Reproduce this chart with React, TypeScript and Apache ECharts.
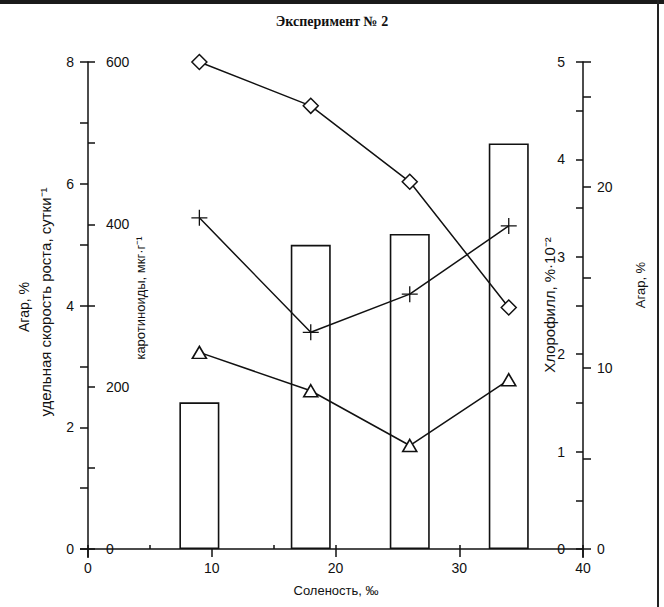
import React, { useEffect, useRef } from 'react';
import * as echarts from 'echarts';

// Salinity, ‰ (x positions of the measurements)
const salinity = [9, 18, 26, 34];
// Agar, % (bars, right outer axis)
const agarBars = [8.1, 16.8, 17.4, 22.4];
// Chlorophyll, %·10⁻² (diamonds, right inner axis)
const chlorophyll = [5.0, 4.55, 3.77, 2.48];
// Carotenoids, µg·g⁻¹ (crosses, left inner axis)
const carotenoids = [408, 267, 314, 398];
// Specific growth rate, day⁻¹ (triangles, left outer axis)
const growthRate = [3.23, 2.6, 1.7, 2.78];

const xLabels = [0, 10, 20, 30, 40];
const leftLabels = [0, 2, 4, 6, 8];
const carotLabels = [0, 200, 400, 600];
const chlLabels = [0, 1, 2, 3, 4, 5];
const agarLabels = [0, 10, 20];

const INK = '#111';
const FONT = '"Liberation Sans", Arial, sans-serif';

const pairs = (ys: number[]) => salinity.map((x, i) => [x, ys[i]]);
const only = (list: number[]) => (v: number) =>
  list.some((l) => Math.abs(l - v) < 1e-6) ? String(v) : '';

export default function App() {
  const ref = useRef<HTMLDivElement>(null);
  useEffect(() => {
    document.body.style.margin = '0';
    const chart = echarts.init(ref.current!, null, { renderer: 'svg' });
    const line = { color: INK, width: 1.5 };
    const tickLabel = { color: INK, fontSize: 14, fontFamily: FONT };
    const rotText = (text: string, x: number, y: number, size = 13) => ({
      type: 'text',
      x,
      y,
      rotation: Math.PI / 2,
      style: {
        text,
        x: 0,
        y: 0,
        align: 'center',
        verticalAlign: 'middle',
        fill: INK,
        font: `${size}px ${FONT}`,
      },
    });
    const seg = (x1: number, y1: number, x2: number, y2: number) => ({
      type: 'line',
      shape: { x1, y1, x2, y2 },
      style: { stroke: INK, lineWidth: 1.5 },
    });
    chart.setOption({
      animation: false,
      backgroundColor: '#fff',
      grid: { left: 88, right: 81, top: 62, bottom: 58, containLabel: false },
      xAxis: [
        {
          type: 'value',
          min: 0,
          max: 40,
          interval: 10,
          axisLine: { show: true, lineStyle: line },
          axisTick: { show: true, length: 8, lineStyle: line },
          axisLabel: { ...tickLabel, margin: 12, formatter: only(xLabels) },
          splitLine: { show: false },
        },
        {
          type: 'value',
          position: 'bottom',
          min: 0,
          max: 40,
          interval: 5,
          axisLine: { show: false },
          axisTick: { show: true, inside: true, length: 4, lineStyle: line },
          axisLabel: { show: false },
          splitLine: { show: false },
        },
      ],
      yAxis: [
        {
          type: 'value',
          position: 'left',
          min: 0,
          max: 8,
          interval: 1,
          axisLine: { show: true, lineStyle: line },
          axisTick: { show: true, length: 8, lineStyle: line },
          axisLabel: { ...tickLabel, margin: 14, formatter: only(leftLabels) },
          splitLine: { show: false },
        },
        {
          type: 'value',
          position: 'left',
          min: 0,
          max: 600,
          interval: 100,
          axisLine: { show: false },
          axisTick: { show: true, inside: true, length: 7, lineStyle: line },
          axisLabel: { ...tickLabel, inside: true, margin: 18, formatter: only(carotLabels) },
          splitLine: { show: false },
        },
        {
          type: 'value',
          position: 'right',
          min: 0,
          max: 5,
          interval: 0.5,
          axisLine: { show: true, lineStyle: line },
          axisTick: { show: true, inside: true, length: 7, lineStyle: line },
          axisLabel: { ...tickLabel, inside: true, margin: 18, formatter: only(chlLabels) },
          splitLine: { show: false },
        },
        {
          type: 'value',
          position: 'right',
          min: 0,
          max: 26.9,
          interval: 5,
          axisLine: { show: false },
          axisTick: { show: true, length: 8, lineStyle: line },
          axisLabel: { ...tickLabel, margin: 14, formatter: only(agarLabels) },
          splitLine: { show: false },
        },
      ],
      series: [
        {
          type: 'bar',
          name: 'Агар, %',
          yAxisIndex: 3,
          barWidth: 40,
          data: pairs(agarBars),
          itemStyle: { color: '#fff', borderColor: INK, borderWidth: 1.6 },
          silent: true,
        },
        {
          type: 'line',
          name: 'Хлорофилл',
          yAxisIndex: 2,
          data: pairs(chlorophyll),
          symbol: 'diamond',
          symbolSize: [15, 15],
          lineStyle: line,
          itemStyle: { color: '#fff', borderColor: INK, borderWidth: 1.5 },
          z: 5,
        },
        {
          type: 'line',
          name: 'Каротиноиды',
          yAxisIndex: 1,
          data: pairs(carotenoids),
          symbol: 'path://M0,7H14M7,0V14',
          symbolSize: [16, 16],
          lineStyle: line,
          itemStyle: { color: 'none', borderColor: INK, borderWidth: 1.3 },
          z: 5,
        },
        {
          type: 'line',
          name: 'Удельная скорость роста',
          yAxisIndex: 0,
          data: pairs(growthRate),
          symbol: 'triangle',
          symbolSize: [14, 12],
          lineStyle: line,
          itemStyle: { color: '#fff', borderColor: INK, borderWidth: 1.6 },
          z: 5,
        },
      ],
      graphic: [
        { type: 'rect', shape: { x: 0, y: 0, width: 664, height: 4 }, style: { fill: '#1a1a1a' } },
        { type: 'rect', shape: { x: 657, y: 0, width: 2, height: 607 }, style: { fill: '#222' } },
        seg(80, 549, 88, 549),
        seg(88, 549, 88, 558),
        seg(583, 549, 583, 558),
        {
          type: 'text',
          left: 'center',
          top: 14,
          style: { text: 'Эксперимент № 2', fill: INK, font: 'bold 14px "Liberation Serif", serif' },
        },
        {
          type: 'text',
          x: 336,
          y: 590,
          style: {
            text: 'Соленость, ‰',
            x: 0,
            y: 0,
            align: 'center',
            verticalAlign: 'middle',
            fill: INK,
            font: `13px ${FONT}`,
          },
        },
        rotText('Агар, %', 24, 307, 14),
        rotText('удельная скорость роста, сутки⁻¹', 45, 302, 15),
        rotText('каротиноиды, мкг·г⁻¹', 140, 298, 13),
        rotText('Хлорофилл, %·10⁻²', 549, 305, 15),
        rotText('Агар, %', 640, 285, 13),
      ],
    });
    return () => chart.dispose();
  }, []);
  return <div ref={ref} style={{ width: 664, height: 607 }} />;
}
